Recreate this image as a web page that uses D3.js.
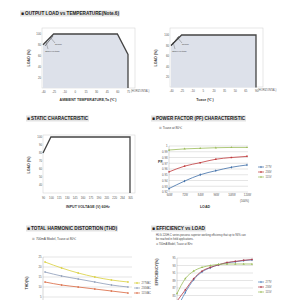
<!DOCTYPE html>
<html>
<head>
<meta charset="utf-8">
<script src="https://cdn.jsdelivr.net/npm/d3@7"></script>
<style>
  html, body { margin: 0; padding: 0; background: #fff; }
  svg { display: block; font-family: "Liberation Sans", Arial, sans-serif; }
</style>
</head>
<body>
<svg id="chart" width="300" height="300"></svg>
<script>
// ---- data ----
const ambientTicks = ['-40', '-25', '-10', '0', '15', '30', '45', '60', '75'];
const ambientCurve = [
  { t: '-40', v: 80 }, { t: '-25', v: 100 }, { t: '60', v: 100 }, { t: '75', v: 62 }, { t: '75', v: 0 }
];
const tcaseTicks = ['-40', '-25', '-10', '5', '20', '35', '50', '65', '90'];
const tcaseCurve = [
  { t: '-40', v: 80 }, { t: '-25', v: 100 }, { t: '90', v: 100 }, { t: '90', v: 0 }
];
const loadTicks = [20, 40, 60, 80, 100];

const voltTicks = ['90', '100', '115', '130', '145', '160', '175', '190', '205', '220', '264', '305'];
const staticCurve = [
  { t: '90', v: 80 }, { t: '100', v: 100 }, { t: '305', v: 100 }, { t: '305', v: 30 }
];
const staticTicks = [40, 50, 60, 70, 80, 90, 100];

const pfLoad = ['60W', '72W', '84W', '96W', '108W', '120W'];
const pfTicks = [0.92, 0.93, 0.94, 0.95, 0.96, 0.97, 0.98, 0.99, 1];
const pf277 = [0.926, 0.939, 0.950, 0.957, 0.963, 0.967];
const pf230 = [0.955, 0.965, 0.971, 0.977, 0.980, 0.982];
const pf115 = [0.993, 0.995, 0.996, 0.997, 0.9975, 0.9975];

const thdLoad = ['60W', '72W', '84W', '96W', '108W', '120W'];
const thdTicks = [5, 10, 15, 20, 25];
const thd277 = [22.5, 19.5, 17, 15, 13.5, 12.5];
const thd230 = [17.5, 15.5, 14, 12.5, 11, 10];
const thd115 = [12.5, 11, 10, 9, 8, 7];

const effLoad = ['10%', '20%', '30%', '40%', '50%', '60%', '70%', '80%', '90%', '100%'];
const effTicks = [85, 87, 89, 91, 93, 95];
const eff277 = [81.5, 85.8, 89.2, 91.3, 92.4, 93.2, 93.7, 94.0, 94.3, 94.5];
const eff230 = [83.5, 86.5, 89.5, 91.5, 92.5, 93.2, 93.8, 94.1, 94.4, 94.6];
const eff115 = [85.5, 89.5, 91.5, 92.5, 93.0, 93.3, 93.4, 93.4, 93.4, 93.4];

const svg = d3.select('#chart');
svg.append('rect').attr('width', 300).attr('height', 300).attr('fill', '#fff');

// section heading with grey bar
function heading(x, y, w, text) {
  svg.append('rect')
    .attr('x', x).attr('y', y - 4.5).attr('width', w).attr('height', 6)
    .attr('fill', '#e4e4e4');
  svg.append('text')
    .attr('x', x + 1).attr('y', y)
    .attr('font-size', 5).attr('font-weight', 'bold').attr('fill', '#222')
    .attr('textLength', w - 2).attr('lengthAdjust', 'spacingAndGlyphs')
    .text('■ ' + text);
}

function note(x, y, text, size = 3.2) {
  svg.append('text')
    .attr('x', x).attr('y', y)
    .attr('font-size', size).attr('fill', '#444')
    .text(text);
}

function yLabel(x, y, text, size = 3.6) {
  svg.append('text')
    .attr('transform', `translate(${x},${y}) rotate(-90)`)
    .attr('text-anchor', 'middle')
    .attr('font-size', size).attr('font-weight', 'bold').attr('fill', '#333')
    .text(text);
}

function xLabel(x, y, text, size = 3.6) {
  svg.append('text')
    .attr('x', x).attr('y', y)
    .attr('text-anchor', 'middle')
    .attr('font-size', size).attr('font-weight', 'bold').attr('fill', '#333')
    .text(text);
}

function styleAxis(g) {
  g.select('.domain').remove();
  g.selectAll('line').remove();
  g.selectAll('text').attr('font-size', 2.8).attr('fill', '#555');
}

// derating style chart (load vs temperature / voltage)
function deratingChart(opt) {
  const g = svg.append('g');
  g.append('rect')
    .attr('x', opt.frame[0]).attr('y', opt.frame[1])
    .attr('width', opt.frame[2] - opt.frame[0]).attr('height', opt.frame[3] - opt.frame[1])
    .attr('fill', 'none').attr('stroke', '#cfcfcf').attr('stroke-width', 0.5);

  const x = d3.scalePoint().domain(opt.xTicks).range(opt.xRange);
  const y = d3.scaleLinear().domain(opt.yDomain).range(opt.yRange);

  if (opt.fill) {
    const area = d3.area()
      .x(d => x(d.t)).y0(y(opt.yDomain[0])).y1(d => y(d.v));
    g.append('path').datum(opt.curve)
      .attr('d', area).attr('fill', '#dde1ea');
  }

  g.append('g')
    .attr('transform', `translate(0,${opt.xAxisY})`)
    .call(d3.axisBottom(x).tickSize(0).tickPadding(0))
    .call(styleAxis);
  g.append('g')
    .attr('transform', `translate(${opt.frame[0] - 1},0)`)
    .call(d3.axisLeft(y).tickValues(opt.yTicks).tickSize(0).tickPadding(0))
    .call(styleAxis);

  const line = d3.line().x(d => x(d.t)).y(d => y(d.v));
  g.append('path').datum(opt.curve)
    .attr('d', line).attr('fill', 'none')
    .attr('stroke', '#444').attr('stroke-width', 1.3);
  return { x, y, g };
}

// ---------- OUTPUT LOAD vs TEMPERATURE ----------
heading(20, 15, 100, 'OUTPUT LOAD vs TEMPERATURE(Note.6)');
const c1 = deratingChart({
  frame: [42, 28, 135, 88], xTicks: ambientTicks, xRange: [43, 128],
  yDomain: [0, 100], yRange: [88, 34], yTicks: loadTicks, curve: ambientCurve,
  xAxisY: 90.5, fill: true
});
c1.g.append('text').attr('x', 131).attr('y', 91.5).attr('font-size', 2.6).attr('fill', '#555').text('(HORIZONTAL)');
c1.g.append('path').attr('d', 'M45,46 L53,36').attr('stroke', '#222').attr('stroke-width', 0.5);
c1.g.append('path').attr('d', 'M50,37 L55,43 M46,42 L48,49').attr('stroke', '#333').attr('stroke-width', 0.3).attr('fill', 'none');
note(55, 45, '50mm', 2.4);
note(45, 52, 'Other/Vertical', 2.4);
xLabel(88, 101, 'AMBIENT TEMPERATURE,Ta (℃)');
yLabel(30, 58, 'LOAD (%)');

// ---------- LOAD vs Tcase ----------
const c2 = deratingChart({
  frame: [170, 28, 263, 87], xTicks: tcaseTicks, xRange: [171, 256],
  yDomain: [0, 100], yRange: [87.5, 35], yTicks: loadTicks, curve: tcaseCurve,
  xAxisY: 90, fill: true
});
c2.g.append('text').attr('x', 258).attr('y', 91).attr('font-size', 2.6).attr('fill', '#555').text('(HORIZONTAL)');
c2.g.append('path').attr('d', 'M171,46 L179,36').attr('stroke', '#222').attr('stroke-width', 0.5);
c2.g.append('path').attr('d', 'M177,37 L182,43 M173,42 L175,49').attr('stroke', '#333').attr('stroke-width', 0.3).attr('fill', 'none');
note(182, 45, '50mm', 2.4);
note(172, 52, 'Other/Vertical', 2.4);
xLabel(205, 101, 'Tcase (℃)');
yLabel(157, 58, 'LOAD (%)');

// ---------- STATIC CHARACTERISTIC ----------
heading(26, 120, 63, 'STATIC CHARACTERISTIC');
deratingChart({
  frame: [43, 135, 135, 193], xTicks: voltTicks, xRange: [43, 130],
  yDomain: [30, 100], yRange: [193, 137], yTicks: staticTicks, curve: staticCurve,
  xAxisY: 196.5, fill: false
});
xLabel(88, 208, 'INPUT VOLTAGE (V) 60Hz');
yLabel(30, 165, 'LOAD (%)');

// line chart with gridlines and legend
function seriesChart(opt) {
  const g = svg.append('g');
  const x = d3.scalePoint().domain(opt.xDomain).range(opt.xRange);
  const y = d3.scaleLinear().domain(opt.yDomain).range(opt.yRange);

  g.selectAll('.grid').data(opt.yTicks).enter().append('line')
    .attr('x1', opt.gridX[0]).attr('x2', opt.gridX[1])
    .attr('y1', d => y(d)).attr('y2', d => y(d))
    .attr('stroke', '#bdbdbd').attr('stroke-width', 0.4);
  g.append('line')
    .attr('x1', opt.gridX[0]).attr('x2', opt.gridX[0])
    .attr('y1', opt.yRange[0]).attr('y2', opt.yRange[1])
    .attr('stroke', '#999').attr('stroke-width', 0.4);

  g.append('g')
    .attr('transform', `translate(${opt.gridX[0] - 1.5},0)`)
    .call(d3.axisLeft(y).tickValues(opt.yTicks).tickSize(0).tickPadding(0).tickFormat(opt.fmt))
    .call(styleAxis);
  if (opt.xAxisY) {
    g.append('g')
      .attr('transform', `translate(0,${opt.xAxisY})`)
      .call(d3.axisBottom(x).tickSize(0).tickPadding(0))
      .call(styleAxis);
  }

  opt.series.forEach((s, i) => {
    const pts = s.values.map((v, j) => [x(opt.xDomain[j]), y(v)]);
    g.append('path').datum(pts)
      .attr('d', d3.line().curve(d3.curveMonotoneX))
      .attr('fill', 'none').attr('stroke', s.color).attr('stroke-width', 0.8);
    g.selectAll(null).data(pts).enter().append('path')
      .attr('transform', d => `translate(${d[0]},${d[1]})`)
      .attr('d', d3.symbol().type(s.symbol).size(2.2))
      .attr('fill', s.color);
    // legend
    const ly = opt.legend[1] + i * 5;
    g.append('line')
      .attr('x1', opt.legend[0]).attr('x2', opt.legend[0] + 6)
      .attr('y1', ly).attr('y2', ly)
      .attr('stroke', s.color).attr('stroke-width', 0.7);
    g.append('path')
      .attr('transform', `translate(${opt.legend[0] + 3},${ly})`)
      .attr('d', d3.symbol().type(s.symbol).size(1.8))
      .attr('fill', s.color);
    g.append('text')
      .attr('x', opt.legend[0] + 7.5).attr('y', ly + 1)
      .attr('font-size', 2.6).attr('fill', '#555')
      .text(s.name);
  });
  return { x, y, g };
}

// ---------- POWER FACTOR ----------
heading(151, 120, 95, 'POWER FACTOR (PF) CHARACTERISTIC');
note(159, 129, '※ Tcase at 80℃');
seriesChart({
  xDomain: pfLoad, xRange: [169, 247], gridX: [169, 248],
  yDomain: [0.92, 1], yRange: [192, 146], yTicks: pfTicks,
  fmt: d => (d === 1 ? '1' : d.toFixed(2)),
  xAxisY: 194, legend: [258, 167],
  series: [
    { name: '277V', values: pf277, color: '#3f6fa8', symbol: d3.symbolDiamond },
    { name: '230V', values: pf230, color: '#c0393b', symbol: d3.symbolSquare },
    { name: '115V', values: pf115, color: '#9bbb59', symbol: d3.symbolTriangle }
  ]
});
note(240, 201.5, '(100%)', 2.8);
xLabel(205, 208, 'LOAD');
svg.append('text').attr('x', 158).attr('y', 163).attr('font-size', 3.6).attr('font-weight', 'bold').attr('fill', '#333').text('PF');

// ---------- THD ----------
heading(26, 230, 92, 'TOTAL HARMONIC DISTORTION (THD)');
note(32, 240, '※ 700mA Model, Tcase at 80℃');
seriesChart({
  xDomain: thdLoad, xRange: [45, 128], gridX: [43, 132],
  yDomain: [0, 25], yRange: [307, 257], yTicks: thdTicks,
  fmt: d3.format('d'),
  xAxisY: null, legend: [134, 283],
  series: [
    { name: '277VAC', values: thd277, color: '#d9cf3a', symbol: d3.symbolSquare },
    { name: '230VAC', values: thd230, color: '#8b9bb7', symbol: d3.symbolCross },
    { name: '115VAC', values: thd115, color: '#d9653c', symbol: d3.symbolCircle }
  ]
});
yLabel(28, 283, 'THD(%)');

// ---------- EFFICIENCY ----------
heading(151, 230, 55, 'EFFICIENCY vs LOAD');
note(156, 235.5, 'HLG-120H-C series possess superior working efficiency that up to 94% can', 2.7);
note(156, 240, 'be reached in field applications.', 2.7);
note(156, 244.5, '※ 700mA Model, Tcase at 80℃', 2.7);
seriesChart({
  xDomain: effLoad, xRange: [177, 252], gridX: [177, 253],
  yDomain: [83, 95], yRange: [303, 258], yTicks: effTicks,
  fmt: d3.format('d'),
  xAxisY: null, legend: [258, 282],
  series: [
    { name: '277V', values: eff277, color: '#4f81bd', symbol: d3.symbolDiamond },
    { name: '230V', values: eff230, color: '#b03a48', symbol: d3.symbolSquare },
    { name: '115V', values: eff115, color: '#9bbb59', symbol: d3.symbolTriangle }
  ]
});
yLabel(158, 272, 'EFFICIENCY(%)');
</script>
</body>
</html>
